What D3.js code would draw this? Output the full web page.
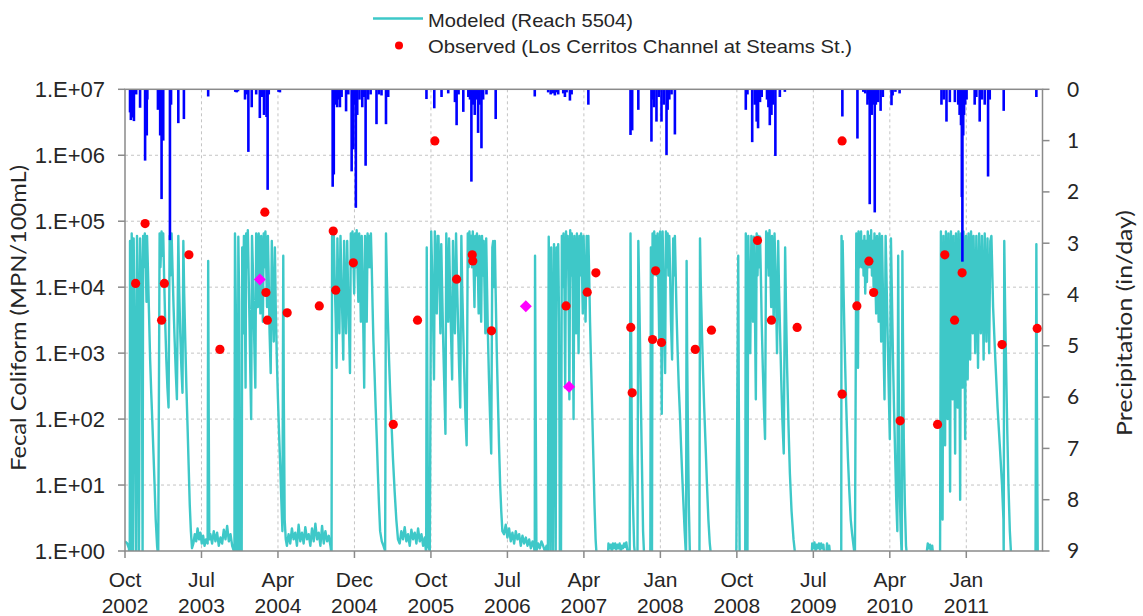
<!DOCTYPE html>
<html><head><meta charset="utf-8">
<script src="https://cdn.jsdelivr.net/npm/d3@7"></script>
<style>body{margin:0;background:#fff}svg{display:block}</style>
</head><body>
<svg id="chart" width="1143" height="616"></svg>
<script>
// ---------- data (day = days after 2002-10-01) ----------
const startDate = "2002-10-01";
const endDate = "2011-10-01";

const tickDates = ["2002-10-01","2003-07-02","2004-04-01","2004-12-31","2005-10-01","2006-07-02","2007-04-02","2008-01-01","2008-10-01","2009-07-02","2010-04-02","2011-01-01"];
const tickMonths = ["Oct","Jul","Apr","Dec","Oct","Jul","Apr","Jan","Oct","Jul","Apr","Jan"];
const tickYears = ["2002","2003","2004","2004","2005","2006","2007","2008","2008","2009","2010","2011"];

const leftTicks = [1,10,100,1000,10000,100000,1000000,10000000];
const leftTickLabels = ["1.E+00","1.E+01","1.E+02","1.E+03","1.E+04","1.E+05","1.E+06","1.E+07"];
const rightTicks = [0,1,2,3,4,5,6,7,8,9];

// Modeled fecal coliform (Reach 5504): [day, MPN/100mL]
const modeled = [
[0,1.4],[8,1.3],[14,1.1],[17,0.8],[18,5e4],[20,3e3],[22,0.8],[24,6.5e4],[27,1e4],[29,0.9],[31,5.5e4],[34,4e3],[37,100],[40,0.8],[43,6e4],[46,8e3],[50,0.8],[54,5.5e4],[57,2e4],[61,600],[63,0.8],[65,6e4],[68,2e4],[71,6.5e4],[74,3e4],[77,6e3],[79,6e4],[82,2e4],[86,4e3],[90,800],[94,250],[98,90],[102,30],[106,10],[110,3],[115,1.2],[119,0.8],
[124,6.5e4],[127,2e4],[131,7e4],[134,3e4],[137,6.5e4],[140,1.5e4],[144,3e3],[148,800],[152,300],[156,150],[160,6e4],[163,1.5e4],[167,6.5e4],[170,2e4],[174,5e3],[178,1.5e3],[182,500],[186,200],[191,6e4],[194,1e4],[198,2e3],[202,600],[206,250],[209,5e4],[212,8e3],[216,1.5e3],[220,300],[224,80],[228,20],[232,5],[236,2],[240,1.1],
[245,1.3],[250,1.8],[255,1.4],[260,2.2],[265,1.5],[270,1.9],[275,1.3],[280,1.7],[285,1.2],[290,1.5],[296,1.3],[298,2.5e4],[300,100],[302,1.5],[306,1.8],[312,1.3],[318,2.0],[324,1.4],[330,1.9],[336,1.2],[342,1.6],[348,1.3],[354,2.1],[360,1.5],[366,2.4],[372,1.4],[378,1.8],[384,1.2],[390,1.0],
[392,0.8],[394,6.5e4],[397,5e3],[400,0.8],[405,0.8],[406,5.8e4],[409,6e3],[412,1],[418,0.9],[420,4e4],[423,2e3],[426,6e4],[429,1e4],[432,300],[434,6.5e4],[437,2e4],[440,7.3e4],[443,1.5e4],[446,3e3],[449,500],[452,100],[455,6e4],[458,2e4],[461,4e3],[464,1e3],[467,300],
[470,6.5e4],[473,2e4],[476,5e3],[479,6.5e4],[482,2e4],[485,4e3],[488,6e4],[491,1.5e4],[494,3e3],[497,6.5e4],[500,2e4],[503,7e4],[506,2e4],[509,5e3],[512,6e4],[515,1.2e4],[518,2e3],[522,500],[526,5e4],[529,8e3],[533,1.5e3],[537,4e4],[540,5e3],[544,800],[548,200],[552,60],[556,20],[560,6],[564,2],[567,3e4],[569,200],[572,3],[576,1.5],[580,1.2],
[586,1.8],[592,1.3],[598,2.2],[604,1.5],[610,1.9],[616,1.2],[622,2.5],[628,1.4],[634,1.9],[640,1.3],[646,2.3],[652,1.5],[658,1.8],[664,1.2],[670,2.2],[676,1.4],[682,2.6],[688,1.5],[694,1.9],[700,1.2],[706,2.4],[712,1.3],[718,2.0],[724,1.4],[730,1.7],[736,1.2],[740,0.9],
[742,6e4],[745,1e4],[748,6.5e4],[751,1.5e4],[755,3e3],[758,600],[761,5.5e4],[764,1e4],[768,2e3],[772,6e4],[775,1.5e4],[779,3e3],[782,800],[785,5e4],[788,1e4],[792,2e3],[796,5e4],[799,1e4],[803,2e3],[806,500],[809,6.5e4],[812,2e4],[815,7e4],[818,3e4],[821,8e3],[824,6.5e4],[827,2e4],[830,7.3e4],[833,2e4],[836,6e3],[839,6.5e4],[842,1.5e4],[845,3e3],[848,6e4],[851,1.5e4],[854,2e3],[857,300],[860,6e4],[863,1.5e4],[866,3e3],[869,6.5e4],[872,2e4],[875,6e4],[878,2e4],[881,6.5e4],[884,2e4],[887,5e3],[890,1.5e3],[894,500],[898,150],[902,50],[906,15],[910,5],[914,2],[920,1.4],[926,1.2],[932,1.0],
[935,6.5e4],[938,1.5e4],[942,3e3],[946,800],[950,250],[955,80],[960,25],[966,8],[972,3],[978,1.5],
[984,1.3],[990,2.0],[996,1.5],[1002,2.3],[1008,1.4],[1014,1.8],[1020,1.2],[1026,2.1],[1032,1.5],[1038,1.9],[1044,1.3],[1050,2.2],[1056,1.4],[1062,1.8],[1068,1.2],[1074,1.6],[1078,1.0],
[1079,0.8],[1081,4e4],[1083,500],[1086,1.2],[1092,1.0],[1097,7e4],[1100,2e4],[1104,3e3],[1107,400],[1110,7e4],[1113,2e4],[1117,4e3],[1120,6e4],[1123,6e4],[1126,1.5e4],[1130,2e3],[1133,4.5e4],[1136,1e4],[1140,1.5e3],[1144,300],[1148,60],[1151,6.5e4],[1154,1.5e4],[1158,3e3],[1161,5.5e4],[1164,1.2e4],[1168,2e3],[1172,400],[1175,5e4],[1178,1e4],[1182,2e3],[1186,6.5e4],[1189,1.5e4],[1193,3e3],[1197,600],[1201,150],[1205,6e4],[1208,1e4],[1212,2e3],[1216,400],[1220,100],[1224,40],
[1228,6.5e4],[1231,2e4],[1234,7e4],[1237,2.5e4],[1240,6e4],[1243,2e4],[1246,7e4],[1249,2e4],[1252,5e3],[1255,6e4],[1258,1.5e4],[1261,6.5e4],[1264,2e4],[1267,4e3],[1270,6e4],[1273,1.5e4],[1276,3e3],[1279,6e4],[1282,1.5e4],[1285,5e4],[1288,1e4],[1291,2e3],[1294,5.5e4],[1297,1e4],[1300,2e3],[1304,400],[1308,100],[1312,30],[1316,4e4],[1319,5e4],[1322,1e4],[1325,5e4],[1328,8e3],[1332,1e3],[1336,200],[1340,40],[1344,10],[1348,4],[1352,2],
[1358,1.8],[1364,2.5],[1370,1.6],[1376,2.2],[1382,1.4],[1388,1.9],[1394,1.3],[1400,2.0],[1406,1.5],[1412,1.8],[1418,1.2],[1424,1.7],[1430,1.3],[1436,1.6],[1442,1.2],[1448,1.5],[1454,1.1],[1460,1.4],[1466,1.1],[1468,0.9],[1469,3e4],[1471,300],[1474,1.0],[1480,1.3],[1486,1.1],[1492,1.4],[1498,1.2],[1504,1.0],[1510,1.2],[1515,0.8],
[1518,5.8e4],[1521,5e3],[1524,0.9],[1527,4e4],[1530,3e3],[1533,0.8],[1537,4.5e4],[1540,2e3],[1543,0.8],[1546,4e4],[1549,2e4],[1552,4.5e4],[1555,3e3],[1558,0.8],[1562,0.8],[1565,6e4],[1568,1e4],[1571,6.5e4],[1574,1.5e4],[1577,300],[1580,7e4],[1583,2e4],[1586,6e4],[1589,1e4],[1592,200],[1595,7.3e4],[1598,1.5e4],[1601,6.5e4],[1604,1e4],[1607,100],[1610,6e4],[1613,1.5e4],[1616,2e3],[1619,6.5e4],[1622,1e4],[1625,1e3],[1628,6e4],[1631,1.5e4],[1634,6.5e4],[1637,2e4],[1640,4e3],[1643,6e4],[1646,1.5e4],[1650,3e3],[1654,6e4],[1657,1e4],[1660,6e4],[1663,1.5e4],[1666,3e3],[1670,600],[1674,120],[1678,25],[1682,5],[1686,1.5],[1690,0.8],
[1730,0.8],[1732,1.3],[1736,1.1],[1740,1.25],[1744,1.0],[1748,1.3],[1752,1.1],[1756,1.3],[1760,1.05],[1764,1.25],[1768,1.1],[1772,1.3],[1776,1.0],[1780,1.2],[1784,1.1],[1788,1.3],[1792,1.15],[1796,1.35],[1800,1.0],[1804,0.8],
[1808,0.8],[1811,6.5e4],[1813,3e3],[1816,30],[1820,5],[1824,1.2],[1828,0.8],[1836,0.8],[1839,5e4],[1842,1e4],[1845,1.5e3],[1848,200],[1852,20],[1856,2],[1860,0.8],
[1882,0.8],[1884,4e4],[1886,3e3],[1888,1],[1890,6.5e4],[1893,1.5e4],[1896,7e4],[1899,2e4],[1902,6e4],[1905,1.5e4],[1908,6.5e4],[1911,1e4],[1914,1.5e3],[1917,7e4],[1920,1.5e4],[1923,120],[1926,7e4],[1929,1.5e4],[1932,2e3],[1935,500],[1938,7e4],[1941,2e4],[1944,6.5e4],[1947,1.5e4],[1950,6e4],[1953,1.5e4],[1956,3e3],[1960,800],[1964,5.5e4],[1967,1.5e4],[1970,6e4],[1973,1.5e4],[1976,4e3],[1980,1e3],[1984,300],[1988,120],[1992,40],[1996,15],[2000,6],[2005,2],[2010,0.8],
[2012,2.5e4],[2014,1e3],[2017,50],[2020,5],[2024,0.8],[2058,0.8],[2060,5.5e4],[2063,1e4],[2067,2e3],[2071,500],[2075,150],[2080,40],[2085,10],[2090,3],[2095,1.3],[2100,0.8],
[2190,0.8],[2197,3e4],[2199,200],[2202,0.8],
[2222,0.8],[2224,6.5e4],[2227,5e3],[2230,0.9],[2233,6e4],[2236,1e4],[2240,1e3],[2244,6e4],[2247,1.5e4],[2250,3e3],[2253,5.8e4],[2256,1e4],[2260,200],[2263,6.5e4],[2266,1.5e4],[2269,6e4],[2272,2e4],[2275,5.8e4],[2278,1.5e4],[2281,3e3],[2285,600],[2289,150],[2293,50],[2297,7e4],[2300,2e4],[2303,6.5e4],[2306,1.5e4],[2309,7.3e4],[2312,2e4],[2315,5e3],[2318,6e4],[2321,1.5e4],[2324,3e3],[2327,6.5e4],[2330,2e4],[2333,5e3],[2336,1e3],[2340,5e4],[2343,1e4],[2347,2e3],[2351,400],[2355,100],[2360,30],[2365,4e4],[2368,5e3],[2372,600],[2377,80],[2382,15],[2388,4],[2395,1.5],[2402,0.8],
[2460,0.8],[2462,1.3],[2466,1.1],[2470,1.35],[2474,1.0],[2478,1.25],[2482,1.1],[2486,1.3],[2490,1.05],[2494,1.3],[2498,1.1],[2502,1.25],[2506,0.8],[2512,0.8],[2515,1.3],[2519,1.0],[2523,1.2],[2527,0.8],
[2566,0.8],[2567,6e4],[2569,2e4],[2571,5e4],[2574,1e4],[2578,1.5e3],[2582,300],[2586,80],[2590,25],[2595,8],[2600,3],[2605,1.8],[2610,1.2],[2615,0.8],
[2620,6.5e4],[2623,1e4],[2626,600],[2628,7e4],[2631,2e4],[2634,3e4],[2637,7e4],[2640,2e4],[2643,5e4],[2646,1.5e4],[2649,6e4],[2652,8e3],[2655,5e4],[2658,1.2e4],[2661,7e4],[2664,2e4],[2667,6e4],[2670,2e4],[2673,7.3e4],[2676,1.5e4],[2679,5e4],[2682,1e4],[2685,6.5e4],[2688,1.5e4],[2691,4e3],[2694,6e4],[2697,1.5e4],[2700,3e3],[2703,6.5e4],[2706,1e4],[2709,1.5e3],[2712,6e4],[2715,1e4],[2718,1e3],[2721,200],[2725,6e4],[2728,1.5e4],[2732,2e3],[2736,300],[2740,50],[2744,5.5e4],[2747,1e4],[2751,1e3],[2755,150],[2759,30],[2763,6],[2767,2],[2770,3e4],[2772,400],[2775,10],[2779,2],[2783,0.8],[2785,3.5e4],[2787,2e3],[2790,50],[2794,5],[2798,1.2],[2802,0.8],
[2870,0.8],[2876,1.3],[2880,1.1],[2884,1.25],[2888,0.9],[2892,1.2],[2896,0.8],
[2920,0.8],[2923,7e4],[2926,1e3],[2929,3],[2932,6e4],[2935,3e3],[2938,40],[2941,7e4],[2944,5e3],[2947,100],[2950,6.5e4],[2953,3e3],[2956,8],[2959,7e4],[2962,8e3],[2965,200],[2968,6e4],[2971,2e3],[2974,30],[2977,6.5e4],[2980,6e3],[2983,150],[2986,7e4],[2989,3e3],[2992,6],[2995,6.5e4],[2998,8e3],[3001,300],[3004,7e4],[3007,4e3],[3010,50],[3013,6e4],[3016,6e3],[3019,400],[3022,6.5e4],[3025,1e4],[3028,800],[3031,7e4],[3034,1.5e4],[3037,2e3],[3040,6e4],[3043,1e4],[3046,1e3],[3050,6e4],[3053,1e4],[3056,600],[3060,6.5e4],[3063,1.5e4],[3066,2e3],[3070,6e4],[3073,1e4],[3076,800],[3080,6.5e4],[3083,1e4],[3086,1.5e3],[3090,5.5e4],[3093,8e3],[3096,1e3],[3100,5e4],[3104,6e4],[3110,5e3],[3118,800],[3126,150],[3134,40],[3142,10],[3147,3],
[3148,0.8],[3150,5e4],[3153,5e3],[3157,500],[3161,60],[3165,10],[3170,2],[3175,0.8],
[3262,0.8],[3265,4.5e4],[3267,200],[3270,0.8],[3287,0.8]
];

// Observed (Los Cerritos Channel at Steams St.): [day, MPN/100mL]
const observed = [
[38,1.14e4],[72,9.2e4],[131,3.16e3],[141,1.14e4],[229,3.1e4],[340,1.14e3],[501,1.37e5],[505,8.3e3],[510,3.16e3],[581,4.08e3],[696,5.2e3],[746,7.1e4],[755,9.0e3],[818,2.34e4],[961,83],[1048,3.16e3],[1110,1.65e6],[1188,1.32e4],[1244,3.1e4],[1246,2.5e4],[1313,2.18e3],[1580,5.2e3],[1656,8.4e3],[1687,1.65e4],[1812,2.45e3],[1817,250],[1890,1.61e3],[1901,1.77e4],[1922,1.45e3],[2043,1.14e3],[2101,2.23e3],[2266,5.1e4],[2316,3.16e3],[2408,2.45e3],[2569,1.65e6],[2569,239],[2622,5.2e3],[2665,2.48e4],[2682,8.3e3],[2777,94],[2911,83],[2937,3.09e4],[2972,3.16e3],[2999,1.65e4],[3142,1.35e3],[3268,2.37e3]
];

// Additional samples shown as magenta diamonds: [day, MPN/100mL]
const otherSamples = [[483,1.31e4],[1436,5.15e3],[1591,309]];

// Daily precipitation: [day, in/day]
const precip = [
[18,0.45],[21,0.6],[24,0.55],[27,0.3],[32,0.62],[40,0.1],[54,0.36],[72,1.39],[78,0.9],[80,0.2],[118,0.4],[126,0.9],[131,2.14],[137,1.0],[161,2.94],[165,0.3],[191,0.66],[211,0.58],[298,0.14],[395,0.05],[400,0.06],[405,0.04],[430,0.2],[436,0.1],[442,1.22],[454,0.35],[470,0.1],[483,0.56],[490,0.15],[498,0.5],[507,0.54],[511,1.96],[515,0.1],[550,0.05],[555,0.06],
[744,1.9],[746,0.6],[748,1.66],[752,0.3],[760,0.35],[765,0.2],[770,0.35],[776,0.15],[792,0.43],[800,0.1],[812,1.6],[818,1.17],[822,0.3],[827,2.31],[832,0.5],[840,0.2],[850,0.35],[856,0.15],[862,1.49],[871,0.2],[880,0.1],[901,0.68],[910,0.1],[919,0.12],[935,0.68],[943,0.15],
[1080,0.19],[1108,0.37],[1134,0.15],[1158,0.08],[1182,0.25],[1188,0.7],[1195,0.1],[1212,0.44],[1230,0.15],[1236,0.2],[1241,1.8],[1246,0.3],[1253,0.5],[1260,0.2],[1265,0.85],[1270,0.3],[1277,1.15],[1283,0.2],[1295,0.1],[1328,0.58],
[1468,0.14],[1516,0.06],[1525,0.1],[1534,0.08],[1540,0.12],[1546,0.06],[1552,0.1],[1570,0.08],[1576,0.15],[1582,0.06],[1594,0.22],[1600,0.1],[1660,0.3],
[1811,0.89],[1817,0.8],[1839,0.4],[1886,1.02],[1890,0.2],[1895,0.35],[1904,0.63],[1912,0.15],[1922,0.63],[1930,0.3],[1940,1.28],[1944,0.4],[1950,0.2],[1958,0.1],[1970,0.88],
[2224,0.4],[2230,0.1],[2247,1.03],[2256,0.3],[2263,0.63],[2268,0.76],[2275,0.25],[2281,0.15],[2300,0.2],[2305,0.35],[2310,0.7],[2316,0.5],[2322,0.3],[2330,1.3],[2346,0.15],[2364,0.05],
[2570,0.53],[2624,0.96],[2645,0.05],[2652,0.08],[2660,0.3],[2664,0.2],[2668,2.24],[2675,0.5],[2680,0.3],[2686,2.4],[2690,0.3],[2698,0.25],[2707,0.42],[2715,0.15],[2746,0.31],[2750,0.12],[2760,0.05],[2775,0.08],
[2925,0.3],[2933,0.2],[2943,0.63],[2955,0.25],[2973,0.25],[2985,0.3],[2990,0.5],[2995,0.7],[2998,2.1],[3000,3.36],[3003,0.9],[3006,0.5],[3010,0.3],[3015,0.2],[3044,0.3],[3050,0.15],[3062,0.63],[3070,0.2],[3080,0.3],[3092,1.7],[3098,0.2],[3148,0.42],[3265,0.15]
];

// ---------- drawing ----------
const svg = d3.select("#chart");
const m = {left:125, right:1042.5, top:89.3, bottom:551};
const parse = d3.utcParse("%Y-%m-%d");
const t0 = parse(startDate);
const toDate = d => d3.utcDay.offset(t0, d);

const x = d3.scaleUtc().domain([t0, parse(endDate)]).range([m.left, m.right]);
const yL = d3.scaleLog().domain([1, 1e7]).range([m.bottom, m.top]);
const yR = d3.scaleLinear().domain([0, 9]).range([m.top, m.bottom]);

const gridColor = "#c4c4c4", axisColor = "#8a8a8a", textColor = "#262626";
const cyan = "#3ec8c8";

// gridlines
svg.append("g").selectAll("line").data(leftTicks.slice(1, -1)).join("line")
  .attr("x1", m.left).attr("x2", m.right)
  .attr("y1", d => yL(d)).attr("y2", d => yL(d))
  .attr("stroke", gridColor).attr("stroke-width", 1).attr("stroke-dasharray", "3,3");
svg.append("g").selectAll("line").data(tickDates.slice(1)).join("line")
  .attr("x1", d => x(parse(d))).attr("x2", d => x(parse(d)))
  .attr("y1", m.top).attr("y2", m.bottom)
  .attr("stroke", gridColor).attr("stroke-width", 1).attr("stroke-dasharray", "3,3");

// clip
svg.append("defs").append("clipPath").attr("id", "plotclip")
  .append("rect").attr("x", m.left).attr("y", m.top)
  .attr("width", m.right - m.left).attr("height", m.bottom - m.top);
const plot = svg.append("g").attr("clip-path", "url(#plotclip)");

// modeled line
plot.append("path").datum(modeled)
  .attr("fill", "none").attr("stroke", cyan).attr("stroke-width", 2.4)
  .attr("stroke-linejoin", "round")
  .attr("d", d3.line().x(d => x(toDate(d[0]))).y(d => yL(d[1])));

// precipitation bars
plot.append("g").selectAll("rect").data(precip).join("rect")
  .attr("x", d => x(toDate(d[0])) - 1.3).attr("width", 2.6)
  .attr("y", yR(0)).attr("height", d => yR(d[1]) - yR(0))
  .attr("fill", "#0000ff");

// observed points
svg.append("g").selectAll("circle").data(observed).join("circle")
  .attr("cx", d => x(toDate(d[0]))).attr("cy", d => yL(d[1]))
  .attr("r", 4.6).attr("fill", "#ff0000");

// other samples (diamonds)
svg.append("g").selectAll("path").data(otherSamples).join("path")
  .attr("d", d3.symbol(d3.symbolSquare, 72))
  .attr("transform", d => `translate(${x(toDate(d[0]))},${yL(d[1])}) rotate(45)`)
  .attr("fill", "#ff00ff");

// frame
svg.append("rect").attr("x", m.left).attr("y", m.top)
  .attr("width", m.right - m.left).attr("height", m.bottom - m.top)
  .attr("fill", "none").attr("stroke", axisColor).attr("stroke-width", 1.5);

// left axis
const gl = svg.append("g");
gl.selectAll("line").data(leftTicks).join("line")
  .attr("x1", m.left - 7).attr("x2", m.left)
  .attr("y1", d => yL(d)).attr("y2", d => yL(d))
  .attr("stroke", axisColor).attr("stroke-width", 1.5);
gl.selectAll("text").data(leftTicks).join("text")
  .attr("x", 105).attr("y", d => yL(d) + 7.8)
  .attr("text-anchor", "end")
  .attr("font-family", "'Liberation Sans', Arial, sans-serif").attr("font-size", 22)
  .attr("fill", textColor)
  .text((d, i) => leftTickLabels[i]);

// right axis
const gr = svg.append("g");
gr.selectAll("line").data(rightTicks).join("line")
  .attr("x1", m.right).attr("x2", m.right + 7)
  .attr("y1", d => yR(d)).attr("y2", d => yR(d))
  .attr("stroke", axisColor).attr("stroke-width", 1.5);
gr.selectAll("text").data(rightTicks).join("text")
  .attr("x", 1067).attr("y", d => yR(d) + 7.3)
  .attr("font-family", "Lato, 'Open Sans', sans-serif").attr("font-size", 21)
  .attr("fill", textColor)
  .text(d => d);

// bottom axis
const gb = svg.append("g");
gb.selectAll("line").data(tickDates).join("line")
  .attr("x1", d => x(parse(d))).attr("x2", d => x(parse(d)))
  .attr("y1", m.bottom).attr("y2", m.bottom + 7)
  .attr("stroke", axisColor).attr("stroke-width", 1.5);
const tl = gb.selectAll("g.tl").data(tickDates).join("g").attr("class", "tl")
  .attr("transform", d => `translate(${x(parse(d))},0)`);
tl.append("text").attr("y", 587).attr("text-anchor", "middle")
  .attr("font-family", "'Liberation Sans', Arial, sans-serif").attr("font-size", 21)
  .attr("fill", textColor).text((d, i) => tickMonths[i]);
tl.append("text").attr("y", 613).attr("text-anchor", "middle")
  .attr("font-family", "'Liberation Sans', Arial, sans-serif").attr("font-size", 21)
  .attr("fill", textColor).text((d, i) => tickYears[i]);

// axis titles
svg.append("text").attr("transform", "translate(26,318) rotate(-90)")
  .attr("text-anchor", "middle")
  .attr("font-family", "Lato, 'Open Sans', sans-serif").attr("font-size", 21)
  .attr("textLength", 306).attr("lengthAdjust", "spacingAndGlyphs")
  .attr("fill", textColor).text("Fecal Coliform (MPN/100mL)");
svg.append("text").attr("transform", "translate(1132,323) rotate(-90)")
  .attr("text-anchor", "middle")
  .attr("font-family", "Lato, 'Open Sans', sans-serif").attr("font-size", 21)
  .attr("textLength", 226).attr("lengthAdjust", "spacingAndGlyphs")
  .attr("fill", textColor).text("Precipitation (in/day)");

// legend
const lg = svg.append("g");
lg.append("line").attr("x1", 373).attr("x2", 423).attr("y1", 18.5).attr("y2", 18.5)
  .attr("stroke", cyan).attr("stroke-width", 2.4);
lg.append("text").attr("x", 428).attr("y", 26.5)
  .attr("font-family", "'Liberation Sans', Arial, sans-serif").attr("font-size", 18.5)
  .attr("textLength", 205).attr("lengthAdjust", "spacingAndGlyphs")
  .attr("fill", textColor).text("Modeled (Reach 5504)");
lg.append("circle").attr("cx", 399).attr("cy", 45.5).attr("r", 4).attr("fill", "#ff0000");
lg.append("text").attr("x", 428).attr("y", 53.3)
  .attr("font-family", "'Liberation Sans', Arial, sans-serif").attr("font-size", 18.5)
  .attr("textLength", 424).attr("lengthAdjust", "spacingAndGlyphs")
  .attr("fill", textColor).text("Observed (Los Cerritos Channel at Steams St.)");
</script>
</body></html>
